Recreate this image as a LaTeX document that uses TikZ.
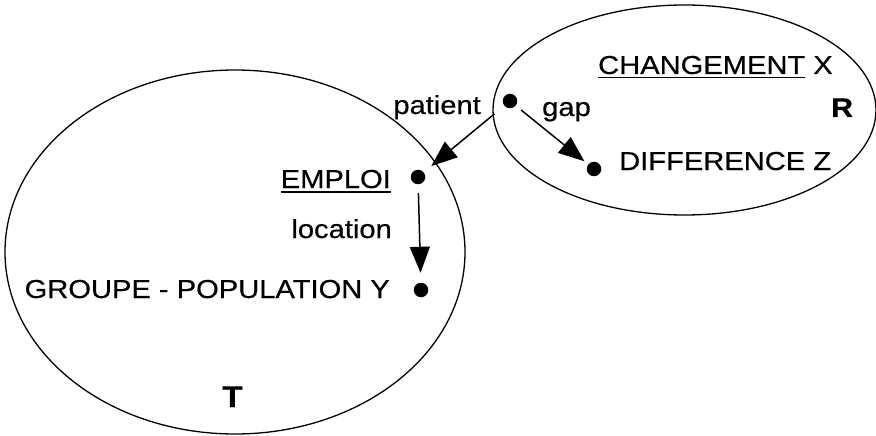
\documentclass[tikz,border=0pt]{standalone}
\usepackage{fontspec}
\setmainfont[FakeStretch=1.12,FakeBold=0.5]{Liberation Sans}
\usetikzlibrary{arrows.meta}
\newcommand\ulword[1]{\setbox0\hbox{#1}\rlap{\rule[-4.5pt]{\wd0}{1.4pt}}\box0}
\begin{document}
\begin{tikzpicture}[x=1pt,y=-1pt,
  dot/.style={circle,fill=black,inner sep=0pt,minimum size=14.5pt,outer sep=0pt},
  lbl/.style={inner sep=0pt,font=\fontsize{26}{30}\selectfont},
  blbl/.style={inner sep=0pt,font=\fontsize{27}{30}\selectfont\bfseries},
  rel/.style={line width=1.5pt,-{Triangle[length=26pt,width=20pt]}},
  area/.style={line width=1.3pt}]
\useasboundingbox (0,0) rectangle (876,436);
% the two frames
\draw[area] (235,252) ellipse [x radius=230, y radius=182];
\draw[area] (684.5,110) ellipse [x radius=191.5, y radius=105];
% concept points
\node[dot] (pdot) at (510,101) {};
\node[dot] (ddot) at (594,169) {};
\node[dot] (edot) at (418,177) {};
\node[dot] (gdot) at (421,290) {};
% labels
\node[lbl,anchor=base west] (chg) at (598,74) {\ulword{CHANGEMENT}\ X};
\node[lbl,anchor=base west] (dif) at (619,170) {DIFFERENCE Z};
\node[blbl,anchor=base west] (rlab) at (831,117) {R};
\node[lbl,anchor=base east] (pat) at (481,114) {patient};
\node[lbl,anchor=base west] (gap) at (542,116) {gap};
\node[lbl,anchor=base east] (emp) at (391,188) {\ulword{EMPLOI}};
\node[lbl,anchor=base east] (loc) at (392,238) {location};
\node[lbl,anchor=base east] (grp) at (390,298) {GROUPE - POPULATION Y};
\node[blbl,font=\fontsize{30}{32}\selectfont\bfseries,anchor=base west] (tlab) at (222,407) {T};
% relations
\draw[rel,shorten <=13pt,shorten >=10pt] (pdot) -- (edot);
\draw[rel,shorten <=7pt,shorten >=5pt] (pdot) -- (ddot);
\draw[rel,shorten <=9pt,shorten >=10pt] (edot) -- (gdot);
\end{tikzpicture}
\end{document}
